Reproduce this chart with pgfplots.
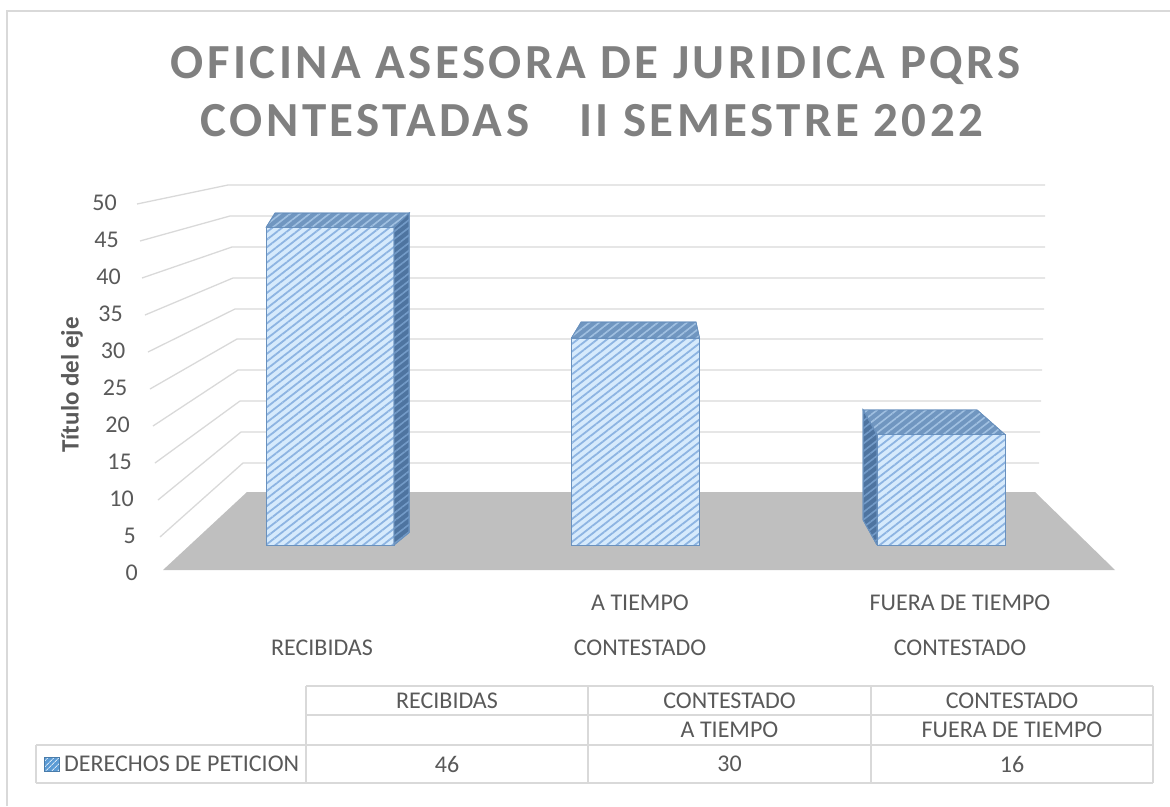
\documentclass[border=0pt]{standalone}
\usepackage{pgfplots}
\pgfplotsset{compat=1.18}
\usepackage{pgfplotstable}
\usepackage{fontspec}
\setmainfont{Carlito}
\newfontfamily\titlefont[LetterSpace=7]{Carlito}
\usetikzlibrary{patterns.meta}

\definecolor{txt}{RGB}{89,89,89}
\definecolor{titlegray}{RGB}{128,128,128}
\definecolor{gridc}{RGB}{217,217,217}
\definecolor{floorc}{RGB}{191,191,191}
\definecolor{barlight}{RGB}{214,234,252}
\definecolor{barstripe}{RGB}{141,180,226}
\definecolor{baredge}{RGB}{105,145,190}
\definecolor{sidefill}{RGB}{78,116,160}
\definecolor{sidestripe}{RGB}{115,155,200}
\definecolor{topfill}{RGB}{112,150,192}
\definecolor{topstripe}{RGB}{160,192,225}
\definecolor{keyblue}{RGB}{91,155,213}

\pgfplotstableread{
idx val
0 46
1 30
2 16
}\datatable

\begin{document}
\begin{tikzpicture}
\useasboundingbox (0,0) rectangle (1170pt,806pt);
% ---------- scene (pixel-like frame: walls, floor, labels, data table)
\begin{axis}[at={(0pt,0pt)}, anchor=south west, scale only axis,
  width=1170pt, height=806pt, xmin=0, xmax=1170, ymin=0, ymax=806,
  y dir=reverse, hide axis, clip=false]
% outer border
\addplot[gridc, line width=1.5pt] coordinates {(7,806) (7,11) (1170,11)};
% floor
\addplot[fill=floorc, draw=none] coordinates {(247,492) (1035,492) (1115,570) (163,570) (247,492)};
% gridlines: front-left -> back-left -> back-right
\addplot[gridc, line width=1.3pt] coordinates {(137,204) (228,185) (1045,185)};
\addplot[gridc, line width=1.3pt] coordinates {(140,241) (230,216) (1045,216)};
\addplot[gridc, line width=1.3pt] coordinates {(142,278) (232,247) (1045,247)};
\addplot[gridc, line width=1.3pt] coordinates {(145,315) (233,278) (1045,278)};
\addplot[gridc, line width=1.3pt] coordinates {(148,352) (235,309) (1044,309)};
\addplot[gridc, line width=1.3pt] coordinates {(150,389) (237,339) (1043,339)};
\addplot[gridc, line width=1.3pt] coordinates {(153,426) (238,370) (1042,370)};
\addplot[gridc, line width=1.3pt] coordinates {(155,463) (240,401) (1041,401)};
\addplot[gridc, line width=1.3pt] coordinates {(158,500) (241,432) (1040,432)};
\addplot[gridc, line width=1.3pt] coordinates {(160,537) (243,463) (1039,463)};
% tick labels
\begin{scope}[every node/.style={anchor=east, inner sep=0pt, text=txt, font=\fontsize{24}{28}\selectfont}]
\node at (axis cs:138,573) {0};
\node at (axis cs:136,536) {5};
\node at (axis cs:134,499) {10};
\node at (axis cs:132,462) {15};
\node at (axis cs:130,425) {20};
\node at (axis cs:127.5,388) {25};
\node at (axis cs:125.5,351) {30};
\node at (axis cs:123,314) {35};
\node at (axis cs:121,277) {40};
\node at (axis cs:119,240) {45};
\node at (axis cs:117,203) {50};
\end{scope}
% axis title
\node[rotate=90, text=txt, font=\fontsize{25}{30}\selectfont\bfseries] at (axis cs:72,385) {Título del eje};
% chart title
\node[anchor=base, text=titlegray, font=\fontsize{49}{58}\selectfont\titlefont\bfseries, inner sep=0pt] at (axis cs:595.5,78) {OFICINA ASESORA DE JURIDICA PQRS};
\node[anchor=base, text=titlegray, font=\fontsize{49}{58}\selectfont\titlefont\bfseries, inner sep=0pt] at (axis cs:592,136) {CONTESTADAS\hspace{50pt}II SEMESTRE 2022};
% category labels
\begin{scope}[every node/.style={text=txt, font=\fontsize{24}{28}\selectfont, inner sep=0pt}]
\node at (axis cs:322,648) {RECIBIDAS};
\node at (axis cs:640,603) {A TIEMPO};
\node at (axis cs:640,648) {CONTESTADO};
\node at (axis cs:960,603) {FUERA DE TIEMPO};
\node at (axis cs:960,648) {CONTESTADO};
% data table text
\node at (axis cs:447,700.5) {RECIBIDAS};
\node at (axis cs:729.5,700.5) {CONTESTADO};
\node at (axis cs:1012,700.5) {CONTESTADO};
\node at (axis cs:729.5,730) {A TIEMPO};
\node at (axis cs:1012,730) {FUERA DE TIEMPO};
\node[anchor=west] at (axis cs:64,764) {DERECHOS DE PETICION};
\node at (axis cs:447,764) {46};
\node at (axis cs:729.5,764) {30};
\node at (axis cs:1012,764) {16};
\end{scope}
% data table grid
\addplot[gridc, line width=1.5pt] coordinates {(306,686) (1153,686)};
\addplot[gridc, line width=1.5pt] coordinates {(306,715) (1153,715)};
\addplot[gridc, line width=1.5pt] coordinates {(36,745) (1153,745)};
\addplot[gridc, line width=1.5pt] coordinates {(36,783) (1153,783)};
\addplot[gridc, line width=1.5pt] coordinates {(36,745) (36,783)};
\addplot[gridc, line width=1.5pt] coordinates {(306,686) (306,783)};
\addplot[gridc, line width=1.5pt] coordinates {(588,686) (588,783)};
\addplot[gridc, line width=1.5pt] coordinates {(871,686) (871,783)};
\addplot[gridc, line width=1.5pt] coordinates {(1153,686) (1153,783)};
% legend key
\addplot[fill=keyblue, draw=keyblue!80!black, line width=0.6pt,
  postaction={pattern={Lines[angle=45,distance=4pt,line width=1pt]}, pattern color=white!75!keyblue}]
  coordinates {(44,757) (59,757) (59,771) (44,771) (44,757)};
\end{axis}
% ---------- bars (value axis in the plane of the bars)
\begin{axis}[at={(177.25pt,261pt)}, anchor=south west, scale only axis,
  width=916.5pt, height=345pt, xmin=-0.5, xmax=2.5, ymin=0, ymax=50,
  hide axis, clip=false]
\addplot[ybar, bar width=128pt, fill=barlight, draw=baredge, line width=0.8pt,
  postaction={pattern={Lines[angle=38,distance=6pt,line width=1.8pt]}, pattern color=barstripe}]
  table[x=idx, y=val] {\datatable};
% top faces
\addplot[fill=topfill, draw=baredge, line width=0.8pt,
  postaction={pattern={Lines[angle=38,distance=6pt,line width=1.6pt]}, pattern color=topstripe}]
  coordinates {(-0.2095,46) (0.2095,46) (0.259,48.1) (-0.18,48.1) (-0.2095,46)};
\addplot[fill=topfill, draw=baredge, line width=0.8pt,
  postaction={pattern={Lines[angle=38,distance=6pt,line width=1.6pt]}, pattern color=topstripe}]
  coordinates {(0.7905,30) (1.2095,30) (1.198,32.3) (0.822,32.3) (0.7905,30)};
\addplot[fill=topfill, draw=baredge, line width=0.8pt,
  postaction={pattern={Lines[angle=38,distance=6pt,line width=1.6pt]}, pattern color=topstripe}]
  coordinates {(1.7905,16) (2.2095,16) (2.118,19.57) (1.745,19.57) (1.7905,16)};
% side faces
\addplot[fill=sidefill, draw=baredge, line width=0.8pt,
  postaction={pattern={Lines[angle=38,distance=6pt,line width=1.6pt]}, pattern color=sidestripe}]
  coordinates {(0.2095,0) (0.2095,46) (0.259,48.1) (0.259,1.8) (0.2095,0)};
\addplot[fill=sidefill, draw=baredge, line width=0.8pt,
  postaction={pattern={Lines[angle=38,distance=6pt,line width=1.6pt]}, pattern color=sidestripe}]
  coordinates {(1.7905,0) (1.7905,16) (1.745,19.57) (1.745,3.62) (1.7905,0)};
\end{axis}
\end{tikzpicture}
\end{document}
